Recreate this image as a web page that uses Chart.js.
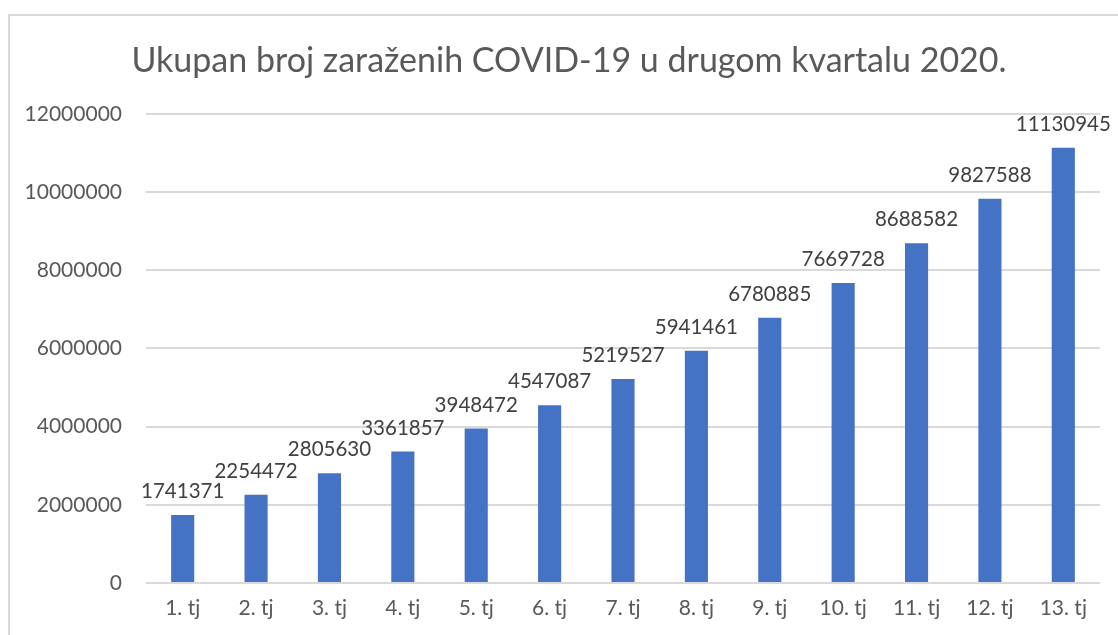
<!DOCTYPE html>
<html>
<head>
<meta charset="utf-8">
<script src="https://cdn.jsdelivr.net/npm/chart.js@4"></script>
<style>
html,body{margin:0;padding:0;background:#fff;overflow:hidden;}
#wrap{position:relative;width:1118px;height:635px;}
#frame{position:absolute;left:8px;top:14px;width:1120px;height:630px;border:2px solid #d9d9d9;box-sizing:border-box;}
canvas{position:absolute;left:0;top:0;}
</style>
</head>
<body>
<div id="wrap">
<div id="frame"></div>
<canvas id="c" width="1118" height="635"></canvas>
</div>
<script>
const titleText = 'Ukupan broj zaraženih COVID-19 u drugom kvartalu 2020.';
const categories = ['1. tj','2. tj','3. tj','4. tj','5. tj','6. tj','7. tj','8. tj','9. tj','10. tj','11. tj','12. tj','13. tj'];
const cases = [1741371,2254472,2805630,3361857,3948472,4547087,5219527,5941461,6780885,7669728,8688582,9827588,11130945];
const yMin = 0, yMax = 12000000, yStep = 2000000;

const FONT = 'Lato, "Open Sans", sans-serif';

const labelPlugin = {
  id: 'barLabels',
  afterLayout(chart) {
    const t = chart.titleBlock;
    if (t) { t.left = 38; t.width = t.right - t.left; }
  },
  afterDatasetsDraw(chart) {
    const ctx = chart.ctx;
    const meta = chart.getDatasetMeta(0);
    ctx.save();
    ctx.font = '20.5px ' + FONT;
    ctx.fillStyle = '#404040';
    ctx.textAlign = 'center';
    ctx.textBaseline = 'alphabetic';
    meta.data.forEach((bar, i) => {
      ctx.fillText(String(chart.data.datasets[0].data[i]), bar.x, bar.y - 17);
    });
    ctx.restore();
  }
};

new Chart(document.getElementById('c'), {
  type: 'bar',
  data: {
    labels: categories,
    datasets: [{
      data: cases,
      backgroundColor: '#4472C4',
      borderWidth: 0,
      categoryPercentage: 1,
      barPercentage: 0.315
    }]
  },
  options: {
    responsive: false,
    animation: false,
    layout: { padding: { left: 6, right: 18, top: 0, bottom: 0 } },
    plugins: {
      legend: { display: false },
      tooltip: { enabled: false },
      title: {
        display: true,
        text: titleText,
        color: '#595959',
        font: { family: FONT, size: 34, weight: 'normal' },
        padding: { top: 41, bottom: 32 }
      }
    },
    scales: {
      x: {
        grid: { display: false, drawTicks: false },
        border: { display: false },
        ticks: { color: '#595959', font: { family: FONT, size: 21 }, padding: 13, maxRotation: 0 },
        afterFit(s) { s.height = 52; }
      },
      y: {
        min: yMin, max: yMax,
        grid: { color: '#d9d9d9', lineWidth: 2, drawTicks: false },
        border: { display: false },
        ticks: { stepSize: yStep, color: '#595959', font: { family: FONT, size: 21 }, padding: 24,
                 callback: (v) => String(v) },
        afterFit(s) { s.width = 140; }
      }
    }
  },
  plugins: [labelPlugin]
});
</script>
</body>
</html>
